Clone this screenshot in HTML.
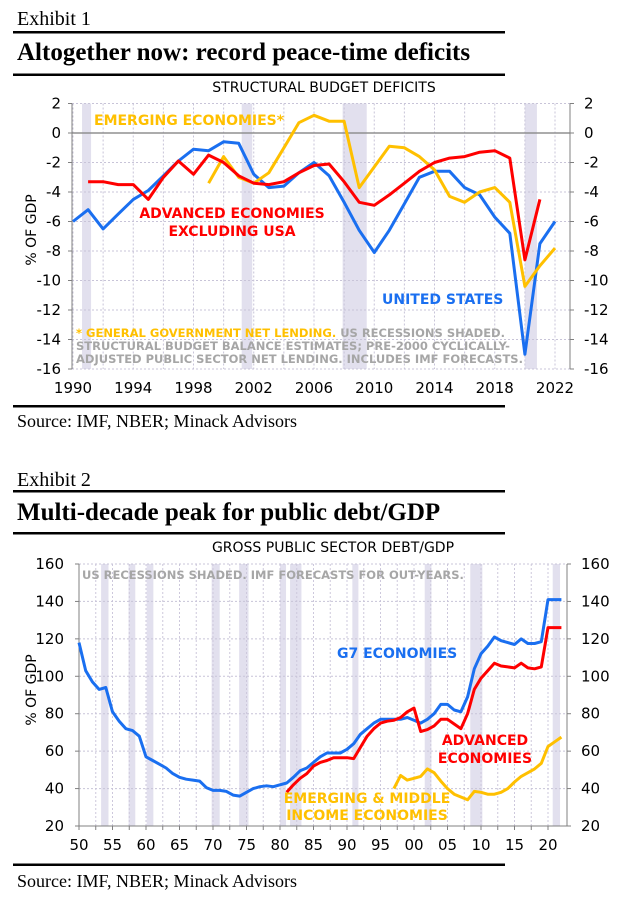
<!DOCTYPE html>
<html><head><meta charset="utf-8"><style>
body{margin:0;background:#fff;}
svg{display:block;}
.ser{font-family:"Liberation Serif",serif;}
.ax{font-family:"DejaVu Sans",sans-serif;font-size:14px;fill:#000;}
.ann{font-family:"DejaVu Sans",sans-serif;font-weight:bold;font-size:14px;}
.note{font-family:"DejaVu Sans",sans-serif;font-weight:bold;font-size:11.5px;fill:#a6a6a6;}
</style></head><body>
<svg id="page" width="640" height="902" xmlns="http://www.w3.org/2000/svg">
<text class="ser" x="17" y="25" font-size="20">Exhibit 1</text>
<rect x="13" y="31" width="492" height="2.5" fill="#000"/>
<text class="ser" x="17" y="60" font-size="25" font-weight="bold">Altogether now: record peace-time deficits</text>
<rect x="13" y="73.5" width="492" height="2.5" fill="#000"/>
<text class="ax" x="324" y="92" text-anchor="middle" font-size="13.5">STRUCTURAL BUDGET DEFICITS</text>
<g id="c1"></g>
<rect x="13" y="405" width="492" height="2.5" fill="#000"/>
<text class="ser" x="17" y="427" font-size="18">Source: IMF, NBER; Minack Advisors</text>

<text class="ser" x="17" y="486" font-size="20">Exhibit 2</text>
<rect x="13" y="490" width="492" height="2.5" fill="#000"/>
<text class="ser" x="17" y="520" font-size="25" font-weight="bold">Multi-decade peak for public debt/GDP</text>
<rect x="13" y="532" width="492" height="2.5" fill="#000"/>
<text class="ax" x="333" y="552" text-anchor="middle" font-size="13.5">GROSS PUBLIC SECTOR DEBT/GDP</text>
<g id="c2"></g>
<rect x="13" y="863.5" width="492" height="2.5" fill="#000"/>
<text class="ser" x="17" y="887" font-size="18">Source: IMF, NBER; Minack Advisors</text>
</svg>
<script>
const NS="http://www.w3.org/2000/svg";
// ---- Chart 1 data ----
const c1Years=[1990,1991,1992,1993,1994,1995,1996,1997,1998,1999,2000,2001,2002,2003,2004,2005,2006,2007,2008,2009,2010,2011,2012,2013,2014,2015,2016,2017,2018,2019,2020,2021,2022];
const c1US=[-6,-5.2,-6.5,-5.5,-4.5,-3.9,-2.9,-1.9,-1.1,-1.2,-0.6,-0.7,-2.8,-3.7,-3.6,-2.7,-2.0,-2.9,-4.7,-6.6,-8.1,-6.6,-4.8,-3.0,-2.6,-2.6,-3.7,-4.2,-5.7,-6.8,-15,-7.5,-6.0];
const c1AdvYears=[1991,1992,1993,1994,1995,1996,1997,1998,1999,2000,2001,2002,2003,2004,2005,2006,2007,2008,2009,2010,2011,2012,2013,2014,2015,2016,2017,2018,2019,2020,2021];
const c1Adv=[-3.3,-3.3,-3.5,-3.5,-4.5,-3.0,-1.9,-2.8,-1.5,-2.0,-2.9,-3.4,-3.5,-3.3,-2.7,-2.2,-2.1,-3.3,-4.7,-4.9,-4.2,-3.4,-2.6,-2.0,-1.7,-1.6,-1.3,-1.2,-1.7,-8.6,-4.5];
const c1EmYears=[1999,2000,2001,2002,2003,2004,2005,2006,2007,2008,2009,2010,2011,2012,2013,2014,2015,2016,2017,2018,2019,2020,2021,2022];
const c1Em=[-3.4,-1.6,-3.0,-3.4,-2.7,-1.0,0.7,1.2,0.8,0.8,-3.7,-2.3,-0.9,-1.0,-1.6,-2.5,-4.3,-4.7,-4.0,-3.7,-4.7,-10.4,-9.0,-7.8];
const c1YTicks=[2,0,-2,-4,-6,-8,-10,-12,-14,-16];
const c1XTicks=[1990,1994,1998,2002,2006,2010,2014,2018,2022];
const c1RecStart=[1990.6,2001.2,2007.9,2020.0];
const c1RecEnd=[1991.2,2001.9,2009.5,2020.8];
// ---- Chart 2 data ----
const c2G7=[118,103,97,93,94,81,76,72,71,68,57,55,53,51,48,46,45,44.5,44,40.5,39,39,38.5,36.5,36,38,40,41,41.5,41,42,43,46,49.5,51,54,57,59,59,59,61,64,69,72,75,77,77,77,77,78,76.5,75,77,80,85,85,82,81,89,104,112,116,121,119,118,117,120,117.5,117.5,118.5,141,141,141];
const c2G7Start=1950;
const c2Adv=[38,42,45.5,48,52,54,55,56.5,56.5,56.5,56,62,68,72,75,76,76.5,78,81,83,70.5,71.5,73.5,77,77,74.5,72,80,93,99,103,107,105.5,105,104.5,107,104.5,104,105,126,126,126];
const c2AdvStart=1981;
const c2Em=[40,47,44.5,45.5,46.5,50.5,48.5,44,40,37,35.5,34,38.5,38,37,37,38,40,43.5,46.5,48.5,50.5,53.5,62.5,65,67.5];
const c2EmStart=1997;
const c2YTicks=[160,140,120,100,80,60,40,20];
const c2XTicks=[1950,1955,1960,1965,1970,1975,1980,1985,1990,1995,2000,2005,2010,2015,2020];
const c2XLabels=["50","55","60","65","70","75","80","85","90","95","00","05","10","15","20"];
const c2RecStart=[1953.3,1957.4,1960.1,1969.8,1973.9,1980.0,1981.5,1990.8,2001.6,2008.4,2020.7];
const c2RecEnd=[1954.4,1958.4,1961.1,1971.0,1975.3,1980.9,1983.2,1991.7,2002.6,2010.2,2021.8];

function mk(parent,tag,attrs,text){const e=document.createElementNS(NS,tag);for(const k in attrs)e.setAttribute(k,attrs[k]);if(text!==undefined)e.textContent=text;parent.appendChild(e);return e;}

// Chart 1 axes
const x1=y=>73+(y-1990)*(555-73)/32;
const y1=v=>103.5+(2-v)*(369-103.5)/18;
const g1=document.getElementById('c1');
c1RecStart.forEach((s,i)=>{const r=mk(g1,'rect',{x:x1(s),y:y1(2),width:x1(c1RecEnd[i])-x1(s),height:y1(-16)-y1(2),fill:'#e2e0ee'});

});
for(let yr=1990;yr<=2022;yr+=2){const l=mk(g1,'line',{x1:x1(yr),x2:x1(yr),y1:y1(2),y2:y1(-16),stroke:'#c8c4d8','stroke-dasharray':'2,2','stroke-width':1});

}
c1YTicks.forEach(v=>{const l=mk(g1,'line',{x1:72,x2:570,y1:y1(v),y2:y1(v),stroke:v===0?'#909090':'#c8c4d8','stroke-dasharray':v===0?'':'2,2','stroke-width':v===0?1.5:1});


const t=mk(g1,'text',{x:61,y:y1(v)+5,'text-anchor':'end',class:'ax',style:'font-size:15px'},String(v));


const t2=mk(g1,'text',{x:584,y:y1(v)+5,class:'ax',style:'font-size:15px'},String(v));


mk(g1,'line',{x1:68,x2:72,y1:y1(v),y2:y1(v),stroke:'#808080'});
mk(g1,'line',{x1:570,x2:574,y1:y1(v),y2:y1(v),stroke:'#808080'});});
mk(g1,'line',{x1:72,x2:72,y1:y1(2),y2:y1(-16),stroke:'#808080'});
mk(g1,'line',{x1:570,x2:570,y1:y1(2),y2:y1(-16),stroke:'#808080'});
c1XTicks.forEach(yr=>{const t=mk(g1,'text',{x:x1(yr),y:393,'text-anchor':'middle',class:'ax',style:'font-size:15px'},String(yr));

});
const yl1=mk(g1,'text',{x:0,y:0,class:'ax',transform:'translate(36,230) rotate(-90)','text-anchor':'middle'},'% OF GDP');


function line(g,xs,vs,xf,yf,col,name){const d=vs.map((v,i)=>(i?'L':'M')+xf(xs[i]).toFixed(1)+','+yf(v).toFixed(1)).join('');
const p=mk(g,'path',{d:d,fill:'none',stroke:col,'stroke-width':3,'stroke-linejoin':'round'});

}
line(g1,c1Years,c1US,x1,y1,'#1a6ff0','us-line');
line(g1,c1EmYears,c1Em,x1,y1,'#ffc000','emerging-line');
line(g1,c1AdvYears,c1Adv,x1,y1,'#ff0000','advanced-line');
function txt(g,attrs,s,name){const t=mk(g,'text',attrs,s);return t;}
txt(g1,{x:94,y:125,class:'ann',fill:'#ffc000'},'EMERGING ECONOMIES*','emerging-label');
txt(g1,{x:232,y:218,class:'ann',fill:'#ff0000','text-anchor':'middle'},'ADVANCED ECONOMIES','advanced-label');
txt(g1,{x:232,y:236,class:'ann',fill:'#ff0000','text-anchor':'middle'},'EXCLUDING USA','advanced-label-2');
txt(g1,{x:382,y:304,class:'ann',fill:'#1a6ff0'},'UNITED STATES','us-label');
const n1=txt(g1,{x:76,y:337,class:'note'},'','footnote-1');
mk(n1,'tspan',{fill:'#ffc000'},'* GENERAL GOVERNMENT NET LENDING.');mk(n1,'tspan',{},' US RECESSIONS SHADED.');
txt(g1,{x:76,y:350,class:'note'},'STRUCTURAL BUDGET BALANCE ESTIMATES; PRE-2000 CYCLICALLY-','footnote-2');
txt(g1,{x:76,y:363,class:'note'},'ADJUSTED PUBLIC SECTOR NET LENDING.  INCLUDES IMF FORECASTS.','footnote-3');

// Chart 2
const x2=y=>79+(y-1950)*(548-79)/70;
const y2=v=>564+(160-v)*(826-564)/140;
const g2=document.getElementById('c2');
c2RecStart.forEach((s,i)=>{const r=mk(g2,'rect',{x:x2(s),y:y2(160),width:x2(c2RecEnd[i])-x2(s),height:y2(20)-y2(160),fill:'#e2e0ee'});

});
for(let yr=1950;yr<=2022;yr+=2.5){const l=mk(g2,'line',{x1:x2(yr),x2:x2(yr),y1:y2(160),y2:y2(20),stroke:'#cdc8dc','stroke-dasharray':'2,2','stroke-width':1});


mk(g2,'line',{x1:x2(yr),x2:x2(yr),y1:y2(20),y2:y2(20)+4,stroke:'#808080'});}
c2YTicks.forEach(v=>{const l=mk(g2,'line',{x1:79,x2:567,y1:y2(v),y2:y2(v),stroke:'#c8c4d8','stroke-dasharray':'2,2'});


const t=mk(g2,'text',{x:64,y:y2(v)+5,'text-anchor':'end',class:'ax',style:'font-size:15px'},String(v));


const t2=mk(g2,'text',{x:581,y:y2(v)+5,class:'ax',style:'font-size:15px'},String(v));


mk(g2,'line',{x1:75,x2:79,y1:y2(v),y2:y2(v),stroke:'#808080'});
mk(g2,'line',{x1:567,x2:571,y1:y2(v),y2:y2(v),stroke:'#808080'});});
mk(g2,'line',{x1:79,x2:79,y1:y2(160),y2:y2(20),stroke:'#808080'});
mk(g2,'line',{x1:567,x2:567,y1:y2(160),y2:y2(20),stroke:'#808080'});
mk(g2,'line',{x1:79,x2:567,y1:y2(20),y2:y2(20),stroke:'#808080'});
c2XTicks.forEach((yr,i)=>{const t=mk(g2,'text',{x:x2(yr),y:850,'text-anchor':'middle',class:'ax',style:'font-size:15px'},c2XLabels[i]);

});
const yl2=mk(g2,'text',{x:0,y:0,class:'ax',transform:'translate(36,690) rotate(-90)','text-anchor':'middle'},'% OF GDP');


const yrs=(start,arr)=>arr.map((_,i)=>start+i);
line(g2,yrs(c2G7Start,c2G7),c2G7,x2,y2,'#1a6ff0','g7-line');
line(g2,yrs(c2AdvStart,c2Adv),c2Adv,x2,y2,'#ff0000','advanced-line');
line(g2,yrs(c2EmStart,c2Em),c2Em,x2,y2,'#ffc000','emerging-line');
txt(g2,{x:82,y:579,class:'note'},'US RECESSIONS SHADED.  IMF FORECASTS FOR OUT-YEARS.','note');
txt(g2,{x:337,y:658,class:'ann',fill:'#1a6ff0'},'G7 ECONOMIES','g7-label');
txt(g2,{x:485,y:745,class:'ann',fill:'#ff0000','text-anchor':'middle'},'ADVANCED','advanced-label');
txt(g2,{x:485,y:763,class:'ann',fill:'#ff0000','text-anchor':'middle'},'ECONOMIES','advanced-label-2');
txt(g2,{x:367,y:803,class:'ann',fill:'#ffc000','text-anchor':'middle'},'EMERGING & MIDDLE','emerging-label');
txt(g2,{x:367,y:820,class:'ann',fill:'#ffc000','text-anchor':'middle'},'INCOME ECONOMIES','emerging-label-2');
</script>
</body></html>
